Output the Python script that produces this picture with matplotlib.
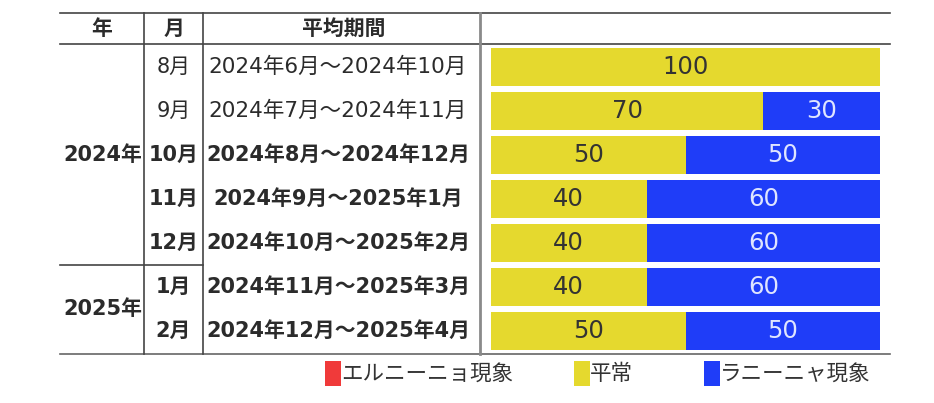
import matplotlib
matplotlib.use("Agg")
import matplotlib.pyplot as plt
from matplotlib.patches import Rectangle

# ---- data ----
header = ["年", "月", "平均期間"]
years = ["2024年", "2025年"]
year_rows = [[0, 1, 2, 3, 4], [5, 6]]
months = ["8月", "9月", "10月", "11月", "12月", "1月", "2月"]
periods = ["2024年6月～2024年10月", "2024年7月～2024年11月", "2024年8月～2024年12月",
           "2024年9月～2025年1月", "2024年10月～2025年2月", "2024年11月～2025年3月",
           "2024年12月～2025年4月"]
el_nino = [0, 0, 0, 0, 0, 0, 0]
normal = [100, 70, 50, 40, 40, 40, 50]
la_nina = [0, 30, 50, 60, 60, 60, 50]
legend_labels = ["エルニーニョ現象", "平常", "ラニーニャ現象"]

# ---- style ----
W, H = 934, 403
C_RED = "#F03A3A"
C_YEL = "#E5D92E"
C_BLU = "#1F3DF8"
TXT = "#2b2b2b"
FAM = ["DejaVu Sans", "Noto Sans CJK JP"]
CJK = ["Noto Sans CJK JP", "DejaVu Sans"]

fig = plt.figure(figsize=(W / 100, H / 100), dpi=100)
ax = fig.add_axes([0, 0, 1, 1])
ax.set_xlim(0, W)
ax.set_ylim(H, 0)
ax.axis("off")

top, head_bot, row_h, n = 13, 44, 44, len(months)
row0 = 45
bottom = row0 + row_h * n  # 353
x_left, x_c1, x_c2, x_c3, x_right = 60, 144, 203, 480, 890

def yc(i):
    return row0 + row_h * i + row_h / 2

# horizontal lines
ax.plot([x_left, x_right], [top, top], color="#444", lw=1.2)
ax.plot([x_left, x_right], [head_bot, head_bot], color="#444", lw=1.2)
ax.plot([x_left, x_right], [bottom + 1, bottom + 1], color="#666", lw=1.2)
sep = row0 + row_h * year_rows[1][0]
ax.plot([x_left, x_c2], [sep, sep], color="#444", lw=1.2)
# vertical lines
ax.plot([x_c1, x_c1], [top, bottom + 1], color="#444", lw=1.2)
ax.plot([x_c2, x_c2], [top, bottom + 1], color="#444", lw=1.2)
ax.plot([x_c3, x_c3], [top, bottom + 1], color="#8a8a8a", lw=2.0)

# header
hy = (top + head_bot) / 2
for xc, t in zip([(x_left + x_c1) / 2, (x_c1 + x_c2) / 2, (x_c2 + x_c3) / 2 + 2], header):
    ax.text(xc, hy, t, ha="center", va="center", fontsize=15, fontweight="bold",
            family=CJK, color=TXT)

# year labels
for y, rows in zip(years, year_rows):
    ymid = (yc(rows[0]) + yc(rows[-1])) / 2
    ax.text((x_left + x_c1) / 2 + 0.5, ymid, y, ha="center", va="center", fontsize=15,
            fontweight="bold", family=FAM, color=TXT)

# month and period labels
for i, (m, p) in enumerate(zip(months, periods)):
    w = "bold" if i >= 2 else "normal"
    ax.text((x_c1 + x_c2) / 2, yc(i), m, ha="center", va="center", fontsize=15,
            fontweight=w, family=FAM, color=TXT)
    ax.text(338, yc(i), p, ha="center", va="center", fontsize=15 if i >= 2 else 15.5,
            fontweight=w, family=FAM, color=TXT)

# bars
axb = fig.add_axes([491 / W, (H - bottom) / H, (880 - 491) / W, (row_h * n) / H])
ypos = list(range(n))
left = [0] * n
for vals, col, tcol in [(el_nino, C_RED, "#f5f5f5"), (normal, C_YEL, "#333333"),
                        (la_nina, C_BLU, "#dfe5ff")]:
    bars = axb.barh(ypos, vals, left=left, height=0.86, color=col, edgecolor="none")
    for b, v, l in zip(bars, vals, left):
        if v > 0:
            axb.text(l + v / 2, b.get_y() + b.get_height() / 2, f"{v}", ha="center",
                     va="center", fontsize=17.5, color=tcol, family="DejaVu Sans")
    left = [a + b for a, b in zip(left, vals)]
axb.set_xlim(0, 100)
axb.set_ylim(n - 0.5, -0.5)
axb.axis("off")

# legend
ly0, ly1 = 361, 386
items = [(325, C_RED, legend_labels[0]), (574, C_YEL, legend_labels[1]),
         (704, C_BLU, legend_labels[2])]
for x0, col, lab in items:
    ax.add_patch(Rectangle((x0, ly0), 16, ly1 - ly0, color=col, lw=0))
    ax.text(x0 + 16, (ly0 + ly1) / 2, lab, ha="left", va="center", fontsize=15.5,
            family=CJK, color="#333333")

fig.savefig("out.png", dpi=100)
